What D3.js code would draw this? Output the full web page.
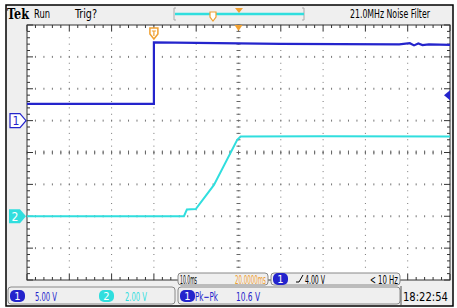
<!DOCTYPE html>
<html>
<head>
<meta charset="utf-8">
<script src="https://cdn.jsdelivr.net/npm/d3@7"></script>
<style>
  body { margin:0; background:#fff; }
  text { font-family: "Liberation Sans Narrow", "DejaVu Sans Condensed", "Liberation Sans", sans-serif; }
</style>
</head>
<body>
<div id="scope"></div>
<script>
// time in ms relative to trigger, volts
var ch1Time = [-30, 0, 0, 10, 30, 58, 60.5, 61.5, 62.5, 63.5, 65, 70];
var ch1Volts = [2.62, 2.62, 12.29, 12.2, 12.05, 11.95, 12.15, 11.8, 12.1, 11.85, 11.95, 11.87];
var ch2Time = [-30, 7.1, 7.8, 9.9, 14.2, 19.7, 20.5, 40, 70];
var ch2Volts = [0, 0, 0.42, 0.45, 1.97, 4.79, 5.0, 5.02, 5.0];
var ch1Scale = 5, ch2Scale = 2;       // V/div
var ch1Offset = 1, ch2Offset = -2;    // ground position in divisions
var trigLevel = 4.0;
var timeDomain = [-30, 70];

var W = 457, H = 308;
var svg = d3.select("#scope").append("svg").attr("width", W).attr("height", H);

var x = d3.scaleLinear().domain(timeDomain).range([27, 450]);
var yDiv = d3.scaleLinear().domain([-4, 4]).range([280, 25]);
var blue = "#2424cc", cyan = "#30dede", orange = "#f0a030";

// narrow scope font: scale text horizontally to the width seen on screen
function txt(x0, y0, s, len, col, size) {
  var t = svg.append("text").attr("x", 0).attr("y", 0).attr("font-size", size || 12.5)
    .attr("fill", col || "#000").text(s);
  var w = t.node().getComputedTextLength();
  var k = len ? len / w : 1;
  t.attr("transform", "translate(" + x0 + "," + y0 + ") scale(" + k + ",1)");
  return t;
}

// outer frame
svg.append("rect").attr("x", 6).attr("y", 5).attr("width", 447).attr("height", 301)
  .attr("fill", "#efefef").attr("stroke", "#000").attr("stroke-width", 1.5);

// graticule
svg.append("rect").attr("x", 27).attr("y", 25).attr("width", 423).attr("height", 255)
  .attr("fill", "#fff").attr("stroke", "#333").attr("stroke-width", 1);

var g = svg.append("g");
var xDivs = d3.range(0, 11), yDivs = d3.range(-4, 5);
var tx = d3.scaleLinear().domain([0, 10]).range(x.range());
// dotted grid
xDivs.slice(1, -1).forEach(function(i) {
  d3.range(-4, 4.01, 0.2).forEach(function(v) {
    g.append("rect").attr("x", tx(i) - 0.5).attr("y", yDiv(v) - 0.5)
      .attr("width", 1).attr("height", 1).attr("fill", "#777");
  });
});
yDivs.slice(1, -1).forEach(function(j) {
  d3.range(0, 10.01, 0.2).forEach(function(u) {
    g.append("rect").attr("x", tx(u) - 0.5).attr("y", yDiv(j) - 1)
      .attr("width", 1).attr("height", 2).attr("fill", "#777");
  });
});
// center line ticks
d3.range(-4, 4.01, 0.2).forEach(function(v) {
  g.append("line").attr("x1", tx(5) - 2).attr("x2", tx(5) + 2).attr("y1", yDiv(v)).attr("y2", yDiv(v))
    .attr("stroke", "#666").attr("stroke-width", 1);
});
d3.range(0, 10.01, 0.2).forEach(function(u) {
  g.append("line").attr("x1", tx(u)).attr("x2", tx(u)).attr("y1", yDiv(0) - 2).attr("y2", yDiv(0) + 2)
    .attr("stroke", "#666").attr("stroke-width", 1);
});
// edge rulers
d3.range(0, 10.01, 0.2).forEach(function(u) {
  var major = Math.abs(u - Math.round(u)) < 1e-6;
  var len = major ? 6 : 3;
  g.append("line").attr("x1", tx(u)).attr("x2", tx(u)).attr("y1", 25).attr("y2", 25 + len).attr("stroke", "#333");
  g.append("line").attr("x1", tx(u)).attr("x2", tx(u)).attr("y1", 280).attr("y2", 280 - len).attr("stroke", "#333");
});
d3.range(-4, 4.01, 0.2).forEach(function(v) {
  var major = Math.abs(v - Math.round(v)) < 1e-6;
  var len = major ? 6 : 3;
  g.append("line").attr("x1", 27).attr("x2", 27 + len).attr("y1", yDiv(v)).attr("y2", yDiv(v)).attr("stroke", "#333");
  g.append("line").attr("x1", 450).attr("x2", 450 - len).attr("y1", yDiv(v)).attr("y2", yDiv(v)).attr("stroke", "#333");
});

// traces
var line1 = d3.line().x(function(d) { return x(d[0]); }).y(function(d) { return yDiv(d[1] / ch1Scale + ch1Offset); });
var line2 = d3.line().x(function(d) { return x(d[0]); }).y(function(d) { return yDiv(d[1] / ch2Scale + ch2Offset); });
svg.append("path").datum(d3.zip(ch2Time, ch2Volts)).attr("d", line2)
  .attr("fill", "none").attr("stroke", cyan).attr("stroke-width", 2);
svg.append("path").datum(d3.zip(ch1Time, ch1Volts)).attr("d", line1)
  .attr("fill", "none").attr("stroke", blue).attr("stroke-width", 2.2);

// channel ground markers
var g1y = yDiv(ch1Offset), g2y = yDiv(ch2Offset);
svg.append("path").attr("d", "M10," + (g1y - 7) + "H20L26," + g1y + "L20," + (g1y + 7) + "H10Z")
  .attr("fill", "#fff").attr("stroke", blue).attr("stroke-width", 1.2);
svg.append("text").attr("x", 16).attr("y", g1y + 4.5).attr("text-anchor", "middle")
  .attr("font-size", 12).attr("fill", blue).text("1");
svg.append("path").attr("d", "M9," + (g2y - 7) + "H20L26," + g2y + "L20," + (g2y + 7) + "H9Z")
  .attr("fill", cyan);
svg.append("text").attr("x", 15).attr("y", g2y + 4.5).attr("text-anchor", "middle")
  .attr("font-size", 12).attr("fill", "#fff").text("2");

// trigger level arrow (ch1)
var ty = yDiv(trigLevel / ch1Scale + ch1Offset);
svg.append("path").attr("d", "M444," + ty + "L450," + (ty - 5) + "V" + (ty + 5) + "Z").attr("fill", blue);

// trigger position marker
var tpx = x(0);
svg.append("path").attr("d", "M" + (tpx - 4) + ",28H" + (tpx + 4) + "V34L" + tpx + ",39L" + (tpx - 4) + ",34Z")
  .attr("fill", "#fff").attr("stroke", orange).attr("stroke-width", 1.5);
svg.append("path").attr("d", "M" + (tpx - 2) + ",31H" + (tpx + 2) + "M" + tpx + ",31V36")
  .attr("stroke", orange).attr("stroke-width", 1.2);
// expansion point
var ex = tx(5);
svg.append("path").attr("d", "M" + (ex - 4) + ",25H" + (ex + 4) + "L" + ex + ",31Z").attr("fill", orange);

// top bar
var tek = svg.append("text").attr("x", 0).attr("y", 0).attr("font-size", 15).attr("font-weight", "bold")
  .style("font-family", "'DejaVu Serif', serif").text("Tek");
tek.attr("transform", "translate(7,19) scale(" + (22 / tek.node().getComputedTextLength()) + ",1)");
txt(34, 18, "Run", 16);
txt(75, 18, "Trig?", 22);
txt(350, 18, "21.0MHz  Noise Filter", 80);
// record view bar
svg.append("path").attr("d", "M176,8H174V20H176M302,8H304V20H302").attr("fill", "none").attr("stroke", "#aaa");
svg.append("line").attr("x1", 175).attr("x2", 304).attr("y1", 14).attr("y2", 14).attr("stroke", cyan).attr("stroke-width", 2.5);
svg.append("path").attr("d", "M235,8H243L239,13Z").attr("fill", orange);
svg.append("path").attr("d", "M210,12H216V17L213,21L210,17Z").attr("fill", "#fff").attr("stroke", orange).attr("stroke-width", 1.2);

// bottom readouts
function box(x0, y0, w, h) {
  svg.append("rect").attr("x", x0).attr("y", y0).attr("width", w).attr("height", h).attr("rx", 3)
    .attr("fill", "#efefef").attr("stroke", "#888").attr("stroke-width", 1);
}
function badge(x0, y0, col, label) {
  svg.append("rect").attr("x", x0).attr("y", y0).attr("width", 15).attr("height", 12).attr("rx", 5).attr("fill", col);
  svg.append("text").attr("x", x0 + 7.5).attr("y", y0 + 10).attr("text-anchor", "middle")
    .attr("font-size", 11).attr("fill", "#fff").text(label);
}
box(178, 273, 90, 12);
txt(180, 283.5, "10.0ms", 17);
txt(235, 283.5, "20.0000ms", 31, orange);
box(271, 273, 129, 12);
badge(273, 273, blue, "1");
svg.append("path").attr("d", "M296,282H299L303,275").attr("fill", "none").attr("stroke", "#000").attr("stroke-width", 1);
txt(305, 283.5, "4.00 V", 20);
txt(370, 283.5, "< 10 Hz", 28);

box(8, 287, 167, 17);
badge(10, 290, blue, "1");
txt(35, 300.5, "5.00 V", 22, blue);
badge(99, 290, cyan, "2");
txt(125, 300.5, "2.00 V", 22, cyan);
box(178, 287, 222, 17);
badge(180, 290, blue, "1");
txt(195, 300.5, "Pk\u2212Pk", 23, blue);
txt(236, 300.5, "10.6 V", 24, blue);
svg.append("line").attr("x1", 401).attr("x2", 401).attr("y1", 286).attr("y2", 305).attr("stroke", "#555");
txt(403, 301, "18:22:54", 45);
</script>
</body>
</html>
